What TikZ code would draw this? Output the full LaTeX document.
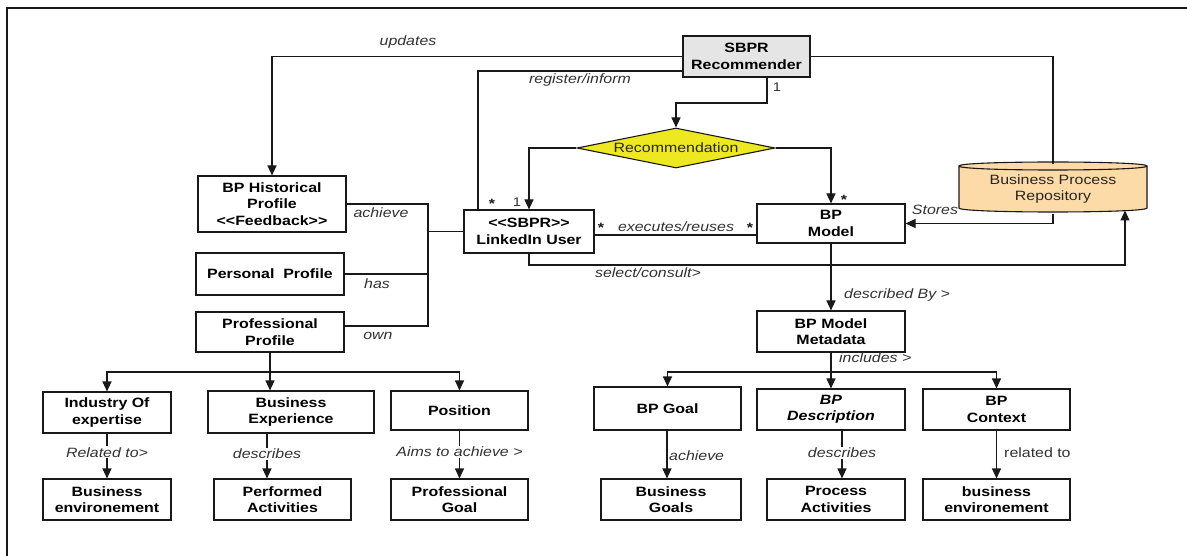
\documentclass[tikz,border=0pt]{standalone}
\usepackage{fontspec}
\setmainfont{Liberation Sans}[FakeStretch=1.18]
\usetikzlibrary{arrows.meta,shapes.geometric,calc}

\definecolor{lineclr}{RGB}{25,25,25}
\definecolor{recfill}{RGB}{229,229,229}
\definecolor{diafill}{RGB}{238,232,32}
\definecolor{repofill}{RGB}{252,219,168}
\definecolor{lblclr}{RGB}{50,50,50}

% guillemet-free double angle brackets
\newcommand{\dlt}{<\kern0pt<}
\newcommand{\dgt}{>\kern0pt>}

\begin{document}
\begin{tikzpicture}[x=1pt,y=-1pt,
  every node/.style={font=\fontsize{13.5}{16.5}\selectfont},
  box/.style={draw=lineclr, line width=1.1pt, fill=white, align=center,
    inner sep=0pt, font=\fontsize{13.5}{16.5}\selectfont\bfseries},
  lbl/.style={font=\fontsize{13.5}{16}\selectfont\itshape, inner sep=1pt, text=lblclr},
  upl/.style={font=\fontsize{13.5}{16}\selectfont, inner sep=1pt, text=lblclr},
  mult/.style={font=\fontsize{12.5}{14}\selectfont, inner sep=0pt, text=lblclr},
  star/.style={font=\fontsize{13.5}{14}\selectfont\bfseries, inner sep=0pt, text=lineclr},
  conn/.style={draw=lineclr, line width=1.1pt},
  arr/.style={conn, -{Triangle[length=10pt,width=9pt]}},
]
\useasboundingbox (0,0) rectangle (1187,556);

% frame
\draw[line width=2.2pt, lineclr] (1187,8) -- (7,8) -- (7,556);

% repository cylinder
\draw[lineclr, line width=1.1pt, fill=repofill]
  (959,166) -- (959,208) .. controls (959,213.33) and (1147,213.33) .. (1147,208)
  -- (1147,166) .. controls (1147,160.67) and (959,160.67) .. cycle;
\draw[lineclr, line width=1.1pt]
  (959,166) .. controls (959,171.33) and (1147,171.33) .. (1147,166);
\node[align=center, inner sep=0pt, minimum width=188pt, minimum height=42pt,
  text=black!85] (repo) at (1053,189) {Business Process\\Repository};

% central nodes
\node[box, fill=recfill, minimum width=127pt, minimum height=41pt] (rec) at (746.5,56.5) {SBPR\\Recommender};
\node[diamond, draw=lineclr, line width=1.1pt, fill=diafill, aspect=5,
  minimum width=198pt, minimum height=40pt, inner sep=0pt, text=black!85] (dia) at (676,148) {Recommendation};
\node[box, minimum width=130pt, minimum height=43pt] (lu) at (529,231.5) {\dlt SBPR\dgt\\LinkedIn User};
\node[box, minimum width=148pt, minimum height=39pt] (bpm) at (831,223.5) {BP\\Model};

% profile nodes
\node[box, minimum width=148pt, minimum height=56pt] (hist) at (272,204) {BP Historical\\Profile\\\dlt Feedback\dgt};
\node[box, minimum width=148pt, minimum height=42pt] (pers) at (270,274) {Personal\ \ Profile};
\node[box, minimum width=148pt, minimum height=40pt] (prof) at (270,332) {Professional\\Profile};

\node[box, minimum width=128pt, minimum height=41pt] (ind) at (107,412.5) {Industry Of\\expertise};
\node[box, minimum width=166pt, minimum height=42pt] (bexp) at (291,412) {Business\\Experience};
\node[box, minimum width=137pt, minimum height=39pt] (pos) at (459.5,410.5) {Position};
\node[box, minimum width=128pt, minimum height=41pt] (benv) at (107,499.5) {Business\\environement};
\node[box, minimum width=137pt, minimum height=41pt] (perf) at (282.5,499.5) {Performed\\Activities};
\node[box, minimum width=137pt, minimum height=41pt] (pgoal) at (459.5,499.5) {Professional\\Goal};

% model metadata nodes
\node[box, minimum width=148pt, minimum height=41pt] (meta) at (831,331.5) {BP Model\\Metadata};
\node[box, minimum width=147pt, minimum height=43pt] (bpgoal) at (667.5,408.5) {BP Goal};
\node[box, minimum width=148pt, minimum height=41pt, font=\fontsize{13.5}{16.5}\selectfont\bfseries\itshape] (bpdesc) at (831,409.5) {BP\\Description};
\node[box, minimum width=147pt, minimum height=41pt] (bpctx) at (996.5,409.5) {BP\\Context};
\node[box, minimum width=140pt, minimum height=41pt] (bgoals) at (671,499.5) {Business\\Goals};
\node[box, minimum width=138pt, minimum height=41pt] (pact) at (836,499.5) {Process\\Activities};
\node[box, minimum width=147pt, minimum height=41pt] (benv2) at (996.5,499.5) {business\\environement};

% recommender links
\draw[arr] (rec.west) -| (hist.north);
\node[lbl] (lupd) at (408,42) {updates};
\draw[conn] (rec.west |- 0,71) -| (lu.north -| 478,0);
\node[lbl] (lreg) at (580,80) {register/inform};
\draw[conn] (rec.east) -| ([yshift=4pt]repo.north);
\coordinate (r1) at (767,103);
\draw[arr] (rec.south -| r1) -- (r1) -| (dia.north);
\node[mult] (m1) at (777,87) {1};

\draw[arr] (dia.west) -| (lu.north);
\draw[arr] (dia.east) -| (bpm.north);
\node[star] (m2) at (492,204) {*};
\node[mult] (m3) at (517,202) {1};
\node[star] (m4) at (844,200) {*};

\draw[conn] (lu.east |- 0,235) -- (bpm.west |- 0,235);
\node[lbl] (lexe) at (676,227) {executes/reuses};
\node[star] (m5) at (601,228) {*};
\node[star] (m6) at (750,228) {*};

\coordinate (rb) at (1125,210.5);
\draw[arr] (lu.south) |- (rb |- 0,265) -- (rb);
\node[lbl] (lsel) at (648,273) {select/consult>};

\draw[arr] ([yshift=-4pt]repo.south) |- (bpm.east);
\node[lbl] (lsto) at (935,210) {Stores};

% profile joins
\coordinate (j1) at (428,204);
\coordinate (j3) at (428,326);
\draw[conn] (hist.east) -| (j3) -- (prof.east |- j3);
\draw[conn] (pers.east) -- (pers.east -| j1);
\draw[conn] (lu.west) -- (lu.west -| j1);
\node[lbl] (lach) at (381,213) {achieve};
\node[lbl] (lhas) at (377,284) {has};
\node[lbl] (lown) at (378,336) {own};

% professional profile tree
\coordinate (b1) at (270,372);
\draw[arr] (prof.south) -- (prof.south |- bexp.north);
\draw[arr] (b1) -| (ind.north);
\draw[arr] (b1) -| (pos.north);
\draw[arr] (ind.south) -- (benv.north) node[lbl, fill=white, pos=0.42] {Related to>};
\draw[arr] (bexp.south -| 267,0) -- (perf.north -| 267,0) node[lbl, fill=white, pos=0.45] {describes};
\draw[arr] (pos.south) -- (pgoal.north) node[lbl, fill=white, pos=0.44] {Aims to achieve >};

% model metadata tree
\draw[arr] (bpm.south) -- (meta.north);
\node[lbl, anchor=west] (ldesc) at (843,295) {described By >};
\coordinate (b2) at (831,372);
\draw[arr] (meta.south) -- (bpdesc.north);
\draw[arr] (b2) -| (bpgoal.north);
\draw[arr] (b2) -| (bpctx.north);
\node[lbl, anchor=west] (linc) at (838,358) {includes >};
\draw[arr] (bpgoal.south -| 667,0) -- (bgoals.north -| 667,0);
\node[lbl, anchor=west] (lach2) at (668,456) {achieve};
\draw[arr] (bpdesc.south -| 842,0) -- (pact.north -| 842,0) node[lbl, fill=white, pos=0.47] {describes};
\draw[arr] (bpctx.south) -- (benv2.north);
\node[upl, anchor=west] (lrel) at (1003,453) {related to};
\end{tikzpicture}
\end{document}
